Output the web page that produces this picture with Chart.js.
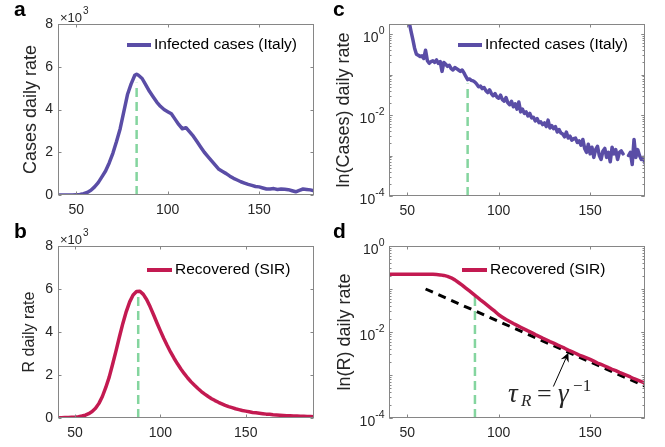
<!DOCTYPE html>
<html>
<head>
<meta charset="utf-8">
<script src="https://cdn.jsdelivr.net/npm/chart.js@4"></script>
<style>
  body { margin: 0; background: #fff; width: 665px; height: 447px; position: relative; overflow: hidden; }
  canvas { position: absolute; }
</style>
</head>
<body>
<canvas id="panelA" width="332" height="223" style="left:0;top:0"></canvas>
<canvas id="panelC" width="333" height="223" style="left:332px;top:0"></canvas>
<canvas id="panelB" width="332" height="224" style="left:0;top:223px"></canvas>
<canvas id="panelD" width="333" height="224" style="left:332px;top:223px"></canvas>
<script>
// ---- data ----
const xTicks = [50, 100, 150];
const linTicks = [0, 2, 4, 6, 8];
const logTicks = [1e-4, 1e-2, 1];

// a: Italy, infected cases per day (x10^3)
const daysA = [40,42,44,46,48,50,52,54,56,58,60,62,64,66,68,70,72,74,76,78,80,82,83,84,86,88,90,92,94,96,98,100,102,104,106,108,110,112,114,116,118,120,122,124,126,128,130,132,134,136,138,140,142,144,146,148,150,152,154,156,158,160,162,164,166,168,170,172,174,176,178,180];
const casesK = [0,0,0,0,0,0.01,0.02,0.06,0.12,0.22,0.38,0.58,0.85,1.12,1.5,1.95,2.5,3.1,3.9,4.7,5.2,5.6,5.65,5.6,5.45,5.15,4.85,4.6,4.35,4.15,4.0,3.9,3.8,3.55,3.3,3.1,3.15,2.95,2.75,2.5,2.25,2.0,1.8,1.6,1.4,1.2,1.1,1.0,0.88,0.78,0.7,0.62,0.56,0.5,0.45,0.4,0.38,0.33,0.28,0.28,0.3,0.26,0.28,0.27,0.25,0.2,0.15,0.22,0.28,0.26,0.24,0.2];
const peakDayA = 83, peakTopA = 5.25;

// b: SIR recovered per day (x10^3)
const daysB = [40,42,44,46,48,50,52,54,56,58,60,62,64,66,68,70,72,74,76,78,80,82,84,86,88,90,92,94,96,98,100,102,104,106,108,110,112,114,116,118,120,122,124,126,128,130,132,134,136,138,140,142,144,146,148,150,152,154,156,158,160,162,164,166,168,170,172,174,176,178,180,182,184,186,188,190];
const recoveredK = [0.01,0.01,0.02,0.02,0.03,0.04,0.06,0.09,0.13,0.2,0.3,0.45,0.68,1.0,1.42,1.9,2.5,3.12,3.78,4.4,4.95,5.4,5.72,5.88,5.9,5.75,5.5,5.17,4.8,4.42,4.05,3.7,3.37,3.06,2.78,2.52,2.28,2.06,1.86,1.68,1.52,1.37,1.23,1.11,1.0,0.9,0.81,0.73,0.66,0.59,0.53,0.48,0.43,0.39,0.35,0.32,0.29,0.26,0.24,0.22,0.2,0.18,0.17,0.15,0.14,0.13,0.12,0.11,0.1,0.09,0.09,0.08,0.08,0.07,0.07,0.06];
const peakDayB = 87, peakTopB = 5.86;

// c: Italy, normalised case rate (log)
const daysC = [51,52,53,54,55,56,57,58,59,60,61,62,63,64,65,66,67,68,69,70,71,72,73,74,75,76,77,78,79,80,81,82,83,84,85,86,87,88,89,90,91,92,93,94,95,96,97,98,99,100,101,102,103,104,105,106,107,108,109,110,111,112,113,114,115,116,117,118,119,120,121,122,123,124,125,126,127,128,129,130,131,132,133,134,135,136,137,138,139,140,141,142,143,144,145,146,147,148,149,150,151,152,153,154,155,156,157,158,159,160,161,162,163,164,165,166,167,168,169,170,171,172,173,174,175,176,177,178,179,180];
const rateC = [2.0,1.2,0.75,0.45,0.32,0.3,0.28,0.29,0.25,0.4,0.22,0.19,0.21,0.22,0.2,0.23,0.19,0.21,0.12,0.2,0.18,0.16,0.17,0.14,0.13,0.15,0.14,0.13,0.12,0.13,0.11,0.09,0.075,0.078,0.072,0.07,0.065,0.058,0.05,0.052,0.045,0.048,0.04,0.036,0.042,0.034,0.03,0.034,0.028,0.026,0.031,0.024,0.022,0.027,0.02,0.018,0.022,0.016,0.019,0.014,0.021,0.012,0.014,0.011,0.012,0.0095,0.011,0.0085,0.0088,0.0072,0.0082,0.0065,0.0068,0.0058,0.0064,0.0052,0.0075,0.0048,0.0055,0.0046,0.0052,0.0038,0.0044,0.0036,0.0034,0.0029,0.0038,0.0027,0.003,0.0024,0.0026,0.0027,0.0021,0.0023,0.0018,0.0025,0.0015,0.0012,0.0019,0.0011,0.0016,0.0009,0.0014,0.0017,0.001,0.0008,0.0013,0.0015,0.0009,0.0012,0.0007,0.0016,0.0011,0.0014,0.0008,0.0012,0.0013,0.0011,null,null,0.001,0.0012,0.0006,0.0025,0.0009,0.0014,0.001,0.0008,0.0009,0.00065];
const peakDayC = 83, peakTopC = 0.06;

// d: SIR recovered, normalised rate (log) and exponential fit
const daysD = [40,42,44,46,48,50,52,54,56,58,60,62,64,66,68,70,72,74,76,78,80,82,84,86,88,90,92,94,96,98,100,102,104,106,108,110,112,114,116,118,120,122,124,126,128,130,132,134,136,138,140,142,144,146,148,150,152,154,156,158,160,162,164,166,168,170,172,174,176,178,180];
const rateD = [0.22,0.22,0.22,0.22,0.22,0.22,0.22,0.22,0.22,0.22,0.22,0.22,0.219,0.216,0.213,0.207,0.197,0.182,0.163,0.142,0.123,0.105,0.09,0.077,0.066,0.056,0.048,0.041,0.035,0.03,0.0251,0.0221,0.0195,0.0176,0.0158,0.0143,0.0129,0.0117,0.0106,0.0097,0.0087,0.0079,0.0072,0.0066,0.006,0.0055,0.005,0.0046,0.0042,0.0038,0.0035,0.0032,0.0029,0.0027,0.0025,0.0023,0.0021,0.0019,0.00176,0.00162,0.00148,0.00136,0.00126,0.00115,0.00106,0.00098,0.0009,0.00082,0.00076,0.0007,0.00065];
const fitDays = [60, 180];
const fitRate = [0.1, 0.00055];
const peakDayD = 87, peakTopD = 0.07;
const arrowFrom = { x: 129.9, y: 0.00054 };
const arrowTo = { x: 138.1, y: 0.0033 };
const labelAt = { x: 105.1, y: 0.000235 };

// ---- look ----
const SANS = '"Liberation Sans", Arial, sans-serif';
const SERIF = '"Liberation Serif", "Times New Roman", serif';
const PURPLE = '#5a4da6';
const CRIMSON = '#c31a51';
const GREEN = '#84d59f';
const AXIS = '#868686';
const TEXT = '#262626';

const pts = (xs, ys) => xs.map((x, i) => ({ x, y: ys[i] }));

function drawLogLabel(ctx, exp, xr, py) {
  ctx.font = '10.5px ' + SANS;
  const e = String(exp);
  const we = ctx.measureText(e).width;
  ctx.font = '14px ' + SANS;
  const wb = ctx.measureText('10').width;
  ctx.textBaseline = 'alphabetic';
  ctx.textAlign = 'left';
  ctx.fillText('10', xr - we - wb, py + 8);
  ctx.font = '10.5px ' + SANS;
  ctx.fillText(e, xr - we, py);
}

const matlabAxes = {
  id: 'matlabAxes',
  afterDatasetsDraw(chart, args, o) {
    const { ctx, chartArea: a, scales: { x, y } } = chart;
    ctx.save();
    ctx.strokeStyle = AXIS;
    ctx.lineWidth = 1;
    const L = Math.round(a.left) + 0.5, R = Math.round(a.right) - 0.5;
    const T = Math.round(a.top) + 0.5, B = Math.round(a.bottom) - 0.5;
    ctx.strokeRect(L, T, R - L, B - T);
    ctx.beginPath();
    x.ticks.forEach(t => {
      const px = Math.round(x.getPixelForValue(t.value)) + 0.5;
      ctx.moveTo(px, B); ctx.lineTo(px, B - 3);
      ctx.moveTo(px, T); ctx.lineTo(px, T + 3);
    });
    y.ticks.forEach(t => {
      const py = Math.round(y.getPixelForValue(t.value)) + 0.5;
      ctx.moveTo(L, py); ctx.lineTo(L + 3, py);
      ctx.moveTo(R, py); ctx.lineTo(R - 3, py);
    });
    if (y.type === 'logarithmic') {
      for (let e = -4; e <= 0; e++) {
        for (let k = 1; k <= 9; k++) {
          const v = k * Math.pow(10, e);
          if (v < y.min || v > y.max) continue;
          const py = Math.round(y.getPixelForValue(v)) + 0.5;
          const len = k === 1 ? 3 : 2;
          ctx.moveTo(L, py); ctx.lineTo(L + len, py);
          ctx.moveTo(R, py); ctx.lineTo(R - len, py);
        }
      }
    }
    ctx.stroke();

    ctx.fillStyle = TEXT;
    if (y.type === 'logarithmic') {
      y.ticks.forEach(t => {
        drawLogLabel(ctx, Math.round(Math.log10(t.value)), L - 5, y.getPixelForValue(t.value));
      });
    }
    if (o.multiplier) {
      ctx.textAlign = 'left';
      ctx.textBaseline = 'alphabetic';
      ctx.font = '13px ' + SANS;
      ctx.fillText('\u00d710', a.left + 2, a.top - 2);
      const w = ctx.measureText('\u00d710').width;
      ctx.font = '10px ' + SANS;
      ctx.fillText('3', a.left + 3 + w, a.top - 10);
    }

    // legend (first dataset)
    const ds = chart.data.datasets[0];
    const lg = o.legend;
    ctx.strokeStyle = ds.borderColor;
    ctx.lineWidth = 4;
    ctx.beginPath();
    ctx.moveTo(lg.x, lg.y); ctx.lineTo(lg.x + lg.len, lg.y);
    ctx.stroke();
    ctx.fillStyle = '#000';
    ctx.font = '15.5px ' + SANS;
    ctx.textBaseline = 'middle';
    ctx.textAlign = 'left';
    ctx.fillText(ds.label, lg.x + lg.len + 3, lg.y);

    // panel letter
    ctx.font = 'bold 21px ' + SANS;
    ctx.textBaseline = 'alphabetic';
    ctx.fillText(o.tag.text, o.tag.x, o.tag.y);

    if (o.arrow) {
      const x0 = x.getPixelForValue(arrowFrom.x), y0 = y.getPixelForValue(arrowFrom.y);
      const x1 = x.getPixelForValue(arrowTo.x), y1 = y.getPixelForValue(arrowTo.y);
      const ang = Math.atan2(y1 - y0, x1 - x0);
      ctx.strokeStyle = '#000';
      ctx.lineWidth = 1;
      ctx.beginPath();
      ctx.moveTo(x0, y0);
      ctx.lineTo(x1 - 6 * Math.cos(ang), y1 - 6 * Math.sin(ang));
      ctx.stroke();
      ctx.fillStyle = '#000';
      ctx.beginPath();
      ctx.moveTo(x1, y1);
      ctx.lineTo(x1 - 10 * Math.cos(ang - 0.45), y1 - 10 * Math.sin(ang - 0.45));
      ctx.lineTo(x1 - 6 * Math.cos(ang), y1 - 6 * Math.sin(ang));
      ctx.lineTo(x1 - 10 * Math.cos(ang + 0.45), y1 - 10 * Math.sin(ang + 0.45));
      ctx.closePath();
      ctx.fill();

      // tau_R = gamma^-1
      const tx = x.getPixelForValue(labelAt.x), ty = y.getPixelForValue(labelAt.y);
      ctx.fillStyle = TEXT;
      ctx.textAlign = 'left';
      ctx.textBaseline = 'alphabetic';
      ctx.font = 'italic 27px ' + SERIF;
      ctx.fillText('\u03c4', tx, ty);
      ctx.font = 'italic 17px ' + SERIF;
      ctx.fillText('R', tx + 13, ty + 4);
      ctx.font = '26px ' + SERIF;
      ctx.fillText('=', tx + 29, ty);
      ctx.font = 'italic 27px ' + SERIF;
      ctx.fillText('\u03b3', tx + 50, ty);
      ctx.font = '17px ' + SERIF;
      ctx.fillText('\u22121', tx + 65, ty - 11);
    }
    ctx.restore();
  }
};

function xScale(max, height) {
  return {
    type: 'linear', min: 40, max,
    afterBuildTicks: s => { s.ticks = xTicks.map(v => ({ value: v })); },
    afterFit: s => { s.height = height; },
    grid: { display: false, drawTicks: false },
    border: { display: false },
    ticks: { color: TEXT, font: { size: 14, family: SANS }, padding: 7, maxRotation: 0, autoSkip: false }
  };
}

function yScale(kind, title, titleSize, titlePad, width, max) {
  const log = kind === 'log';
  return {
    type: log ? 'logarithmic' : 'linear',
    min: log ? 1e-4 : 0, max,
    afterBuildTicks: s => { s.ticks = (log ? logTicks : linTicks).map(v => ({ value: v })); },
    afterFit: s => { s.width = width; },
    grid: { display: false, drawTicks: false },
    border: { display: false },
    ticks: { display: !log, color: TEXT, font: { size: 14, family: SANS }, padding: 5, autoSkip: false },
    title: { display: true, text: title, color: TEXT, font: { size: titleSize, family: SANS }, padding: { top: titlePad, bottom: 0 } }
  };
}

function lineSet(label, data, color, width, dash) {
  return {
    label, data, borderColor: color, borderWidth: width, borderDash: dash || [],
    pointRadius: 0, tension: 0, fill: false, spanGaps: false,
    borderJoinStyle: 'round', borderCapStyle: dash ? 'butt' : 'round'
  };
}

function panel(id, datasets, scales, pad, opts) {
  return new Chart(document.getElementById(id), {
    type: 'line',
    data: { datasets },
    options: {
      responsive: false, animation: false,
      layout: { padding: pad },
      scales,
      plugins: { legend: { display: false }, tooltip: { enabled: false }, matlabAxes: opts }
    },
    plugins: [matlabAxes]
  });
}

panel('panelA', [
  lineSet('Infected cases (Italy)', pts(daysA, casesK), PURPLE, 3.5),
  lineSet('peak', pts([peakDayA, peakDayA], [0, peakTopA]), GREEN, 2.5, [9, 5])
], { x: xScale(180, 28), y: yScale('lin', 'Cases daily rate', 18, 20, 58, 8) },
  { top: 24, right: 18, left: 0, bottom: 0 },
  { legend: { x: 127, y: 45, len: 24 }, tag: { text: 'a', x: 14, y: 16 }, multiplier: true });

panel('panelB', [
  lineSet('Recovered (SIR)', pts(daysB, recoveredK), CRIMSON, 3.5),
  lineSet('peak', pts([peakDayB, peakDayB], [0, peakTopB]), GREEN, 2.5, [9, 5])
], { x: xScale(190, 29), y: yScale('lin', 'R daily rate', 16, 20, 58, 8) },
  { top: 23, right: 18, left: 0, bottom: 0 },
  { legend: { x: 147, y: 47, len: 25 }, tag: { text: 'b', x: 14, y: 15 }, multiplier: true });

panel('panelC', [
  lineSet('Infected cases (Italy)', pts(daysC, rateC), PURPLE, 3.5),
  lineSet('peak', pts([peakDayC, peakDayC], [1e-4, peakTopC]), GREEN, 2.5, [9, 5])
], { x: xScale(180, 27), y: yScale('log', 'ln(Cases) daily rate', 18, 1, 57, 1.78) },
  { top: 24, right: 20, left: 0, bottom: 0 },
  { legend: { x: 126, y: 45, len: 24 }, tag: { text: 'c', x: 1, y: 16 } });

panel('panelD', [
  lineSet('Recovered (SIR)', pts(daysD, rateD), CRIMSON, 3.5),
  lineSet('fit', pts(fitDays, fitRate), '#000', 3, [8, 6]),
  lineSet('peak', pts([peakDayD, peakDayD], [1e-4, peakTopD]), GREEN, 2.5, [9, 5])
], { x: xScale(180, 29), y: yScale('log', 'ln(R) daily rate', 18, 2, 57, 1) },
  { top: 23, right: 20, left: 0, bottom: 0 },
  { legend: { x: 130, y: 47, len: 25 }, tag: { text: 'd', x: 1, y: 15 }, arrow: true });
</script>
</body>
</html>
